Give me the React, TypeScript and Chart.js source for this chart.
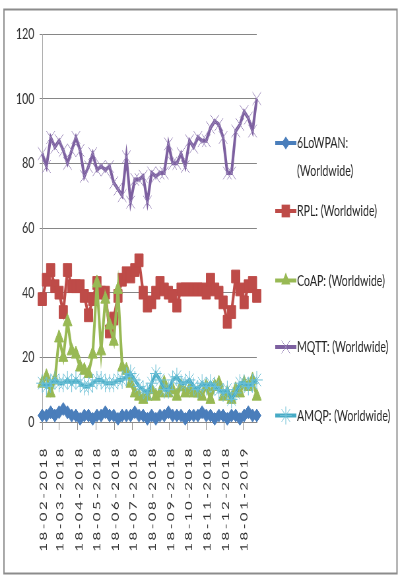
import React, { useEffect, useRef } from 'react';
import { Chart, registerables } from 'chart.js';

Chart.register(...registerables);

// The chart is laid out on a wide canvas and narrowed horizontally with CSS,
// which gives the condensed lettering and tall markers of the original figure.
const SQUEEZE = 0.66;
const CANVAS_W = Math.round(400 / SQUEEZE);
const CANVAS_H = 578;
const FONT = 'Lato, "Open Sans", "Liberation Sans", sans-serif';

// Weekly search interest, first week starting 18-02-2018
const firstWeek = '18-02-2018';
const monthTicks = [
  '18-02-2018', '18-03-2018', '18-04-2018', '18-05-2018', '18-06-2018', '18-07-2018',
  '18-08-2018', '18-09-2018', '18-10-2018', '18-11-2018', '18-12-2018', '18-01-2019',
];
const yTicks = [0, 20, 40, 60, 80, 100, 120];

const lowpan = [
  2, 2, 3, 2, 3, 4, 3, 2, 2, 1, 2, 2, 1, 2, 2, 3, 2, 2, 1, 2, 2, 2, 3, 2, 2, 1,
  2, 1, 2, 2, 3, 2, 2, 2, 1, 2, 2, 2, 3, 2, 2, 1, 2, 2, 1, 2, 2, 1, 2, 3, 2, 2,
];
const rpl = [
  38, 44, 47, 42, 40, 34, 47, 42, 42, 42, 39, 33, 38, 43, 40, 40, 28, 32, 39, 44, 46, 45, 47, 50, 40, 36,
  37, 40, 43, 41, 40, 39, 36, 41, 41, 41, 41, 41, 41, 40, 44, 41, 40, 37, 31, 34, 45, 41, 37, 42, 43, 39,
];
const coap = [
  12, 14, 9, 13, 26, 20, 31, 22, 21, 17, 16, 15, 21, 43, 22, 38, 30, 25, 41, 17, 16, 12, 9, 8, 7, 8,
  10, 8, 9, 12, 9, 10, 8, 11, 9, 10, 9, 9, 8, 11, 7, 11, 12, 8, 9, 7, 10, 9, 12, 11, 13, 8,
];
const mqtt = [
  83, 79, 88, 85, 87, 84, 80, 84, 88, 84, 76, 79, 83, 78, 79, 78, 79, 74, 72, 70, 82, 68, 75, 75, 76, 68,
  77, 76, 77, 77, 86, 80, 80, 83, 79, 87, 85, 88, 87, 87, 91, 93, 92, 88, 77, 77, 90, 92, 96, 94, 90, 100,
];
const amqp = [
  12, 11, 12, 13, 12, 12, 13, 12, 13, 12, 11, 11, 12, 13, 13, 12, 12, 12, 13, 13, 14, 15, 13, 11, 10, 9,
  12, 15, 13, 10, 10, 13, 14, 12, 12, 13, 11, 10, 12, 11, 12, 11, 10, 9, 10, 7, 9, 12, 12, 11, 12, 13,
];

const seriesLabels = [
  '6LoWPAN: (Worldwide)',
  'RPL: (Worldwide)',
  'CoAP: (Worldwide)',
  'MQTT: (Worldwide)',
  'AMQP: (Worldwide)',
];
const legendLines = [
  ['6LoWPAN:', '(Worldwide)'],
  ['RPL: (Worldwide)'],
  ['CoAP: (Worldwide)'],
  ['MQTT: (Worldwide)'],
  ['AMQP: (Worldwide)'],
];
const seriesValues = [lowpan, rpl, coap, mqtt, amqp];
const seriesColors = ['#4A7EBB', '#BE4B48', '#98B954', '#7D60A0', '#46AAC5'];
const markerColors = ['#4A7EBB', '#BE4B48', '#98B954', '#9A86BA', '#6CC0D6'];
const seriesMarkers = ['rectRot', 'rect', 'triangle', 'crossRot', 'star'];
const markerRadius = [6.5, 9, 8, 9, 9];

const DAY = 86400000;
function parseDmy(s: string): number {
  const [d, m, y] = s.split('-').map(Number);
  return Date.UTC(y, m - 1, d);
}
const start = parseDmy(firstWeek);
const daysFromStart = (s: string) => Math.round((parseDmy(s) - start) / DAY);
const tickDays = monthTicks.map(daysFromStart);
const weekDay = (i: number) => i * 7;
const lastDay = weekDay(lowpan.length - 1);

function drawMarker(
  ctx: CanvasRenderingContext2D, style: string, x: number, y: number, r: number, color: string,
) {
  ctx.save();
  ctx.fillStyle = color;
  ctx.strokeStyle = color;
  ctx.lineWidth = 1;
  ctx.beginPath();
  if (style === 'rectRot') {
    ctx.moveTo(x, y - r);
    ctx.lineTo(x + r, y);
    ctx.lineTo(x, y + r);
    ctx.lineTo(x - r, y);
    ctx.closePath();
    ctx.fill();
  } else if (style === 'rect') {
    const s = r * Math.SQRT1_2;
    ctx.rect(x - s, y - s, 2 * s, 2 * s);
    ctx.fill();
  } else if (style === 'triangle') {
    let a = 0;
    ctx.moveTo(x + Math.sin(a) * r, y - Math.cos(a) * r);
    a += (2 * Math.PI) / 3;
    ctx.lineTo(x + Math.sin(a) * r, y - Math.cos(a) * r);
    a += (2 * Math.PI) / 3;
    ctx.lineTo(x + Math.sin(a) * r, y - Math.cos(a) * r);
    ctx.closePath();
    ctx.fill();
  } else {
    const k = r * Math.SQRT1_2;
    ctx.moveTo(x - k, y - k);
    ctx.lineTo(x + k, y + k);
    ctx.moveTo(x + k, y - k);
    ctx.lineTo(x - k, y + k);
    if (style === 'star') {
      ctx.moveTo(x, y - r);
      ctx.lineTo(x, y + r);
      ctx.moveTo(x - r, y);
      ctx.lineTo(x + r, y);
    }
    ctx.stroke();
  }
  ctx.restore();
}

// White page with the grey frame around the whole figure
const framePlugin = {
  id: 'frame',
  beforeDraw(chart: Chart) {
    const { ctx } = chart;
    ctx.save();
    ctx.fillStyle = '#ffffff';
    ctx.fillRect(0, 0, chart.width, chart.height);
    ctx.strokeStyle = '#8c8c8c';
    ctx.lineWidth = 2;
    ctx.strokeRect(6, 9.5, 595.5, 564);
    ctx.restore();
  },
};

// Vertical month labels under the date axis
const monthLabelPlugin = {
  id: 'monthLabels',
  afterDraw(chart: Chart) {
    const { ctx } = chart;
    const xs = chart.scales.x;
    ctx.save();
    ctx.fillStyle = '#333333';
    ctx.font = `15px ${FONT}`;
    (ctx as any).letterSpacing = '2.5px';
    ctx.textAlign = 'right';
    ctx.textBaseline = 'middle';
    tickDays.forEach((d, i) => {
      const x = xs.getPixelForValue(d);
      ctx.save();
      ctx.translate(x + 2, chart.chartArea.bottom + 24);
      ctx.rotate(-Math.PI / 2);
      ctx.fillText(monthTicks[i], 0, 0);
      ctx.restore();
    });
    ctx.restore();
  },
};

// Legend on the right: line sample with its marker, then the series name
const legendPlugin = {
  id: 'sideLegend',
  afterDraw(chart: Chart) {
    const { ctx } = chart;
    const rows = [143, 211, 280.5, 347, 415.5];
    const x1 = 417;
    const x2 = 449;
    ctx.save();
    ctx.font = `16px ${FONT}`;
    ctx.textBaseline = 'middle';
    ctx.textAlign = 'left';
    legendLines.forEach((lines, i) => {
      const y = rows[i];
      ctx.strokeStyle = seriesColors[i];
      ctx.lineWidth = 4;
      ctx.beginPath();
      ctx.moveTo(x1, y);
      ctx.lineTo(x2, y);
      ctx.stroke();
      drawMarker(ctx, seriesMarkers[i], (x1 + x2) / 2, y, markerRadius[i], markerColors[i]);
      ctx.fillStyle = '#262626';
      lines.forEach((t, j) => ctx.fillText(t, x2 + 1, y + j * 28));
    });
    ctx.restore();
  },
};

export default function App() {
  const canvasRef = useRef<HTMLCanvasElement | null>(null);

  useEffect(() => {
    const canvas = canvasRef.current;
    if (!canvas) return;

    const datasets = seriesValues.map((vals, i) => ({
      label: seriesLabels[i],
      data: vals.map((v, w) => ({ x: weekDay(w), y: v })),
      borderColor: seriesColors[i],
      backgroundColor: seriesColors[i],
      borderWidth: 4,
      pointStyle: seriesMarkers[i] as any,
      pointRadius: markerRadius[i],
      pointBackgroundColor: markerColors[i],
      pointBorderColor: markerColors[i],
      pointBorderWidth: 1,
      tension: 0,
      clip: false as any,
      order: seriesValues.length - i,
    }));

    const chart = new Chart(canvas, {
      type: 'line',
      data: { datasets },
      options: {
        responsive: false,
        animation: false,
        devicePixelRatio: 1,
        layout: { padding: { left: 6, right: 217, top: 34, bottom: 0 } },
        plugins: {
          legend: { display: false },
          tooltip: { enabled: false },
        },
        scales: {
          x: {
            type: 'linear',
            min: 0,
            max: lastDay,
            afterBuildTicks: (s: any) => {
              s.ticks = tickDays.map((v) => ({ value: v }));
            },
            afterFit: (s: any) => {
              s.height = 156;
            },
            ticks: { display: false },
            grid: { drawOnChartArea: false, drawTicks: true, tickLength: 8, color: '#8a8a8a' },
            border: { color: '#8a8a8a', width: 1 },
          },
          y: {
            min: 0,
            max: 120,
            afterBuildTicks: (s: any) => {
              s.ticks = yTicks.map((v) => ({ value: v }));
            },
            afterFit: (s: any) => {
              s.width = 58;
            },
            ticks: {
              color: '#333333',
              padding: 8,
              font: { family: FONT, size: 16 },
            },
            grid: { color: '#868686', lineWidth: 1, tickLength: 4 },
            border: { color: '#a6a6a6', width: 1 },
          },
        },
      },
      plugins: [framePlugin, monthLabelPlugin, legendPlugin],
    });

    return () => chart.destroy();
  }, []);

  return (
    <div
      style={{
        position: 'fixed',
        left: 0,
        top: 0,
        width: 400,
        height: CANVAS_H,
        overflow: 'hidden',
        background: '#ffffff',
      }}
    >
      <canvas
        ref={canvasRef}
        width={CANVAS_W}
        height={CANVAS_H}
        style={{
          display: 'block',
          width: CANVAS_W,
          height: CANVAS_H,
          transform: `scaleX(${SQUEEZE})`,
          transformOrigin: '0 0',
        }}
      />
    </div>
  );
}
